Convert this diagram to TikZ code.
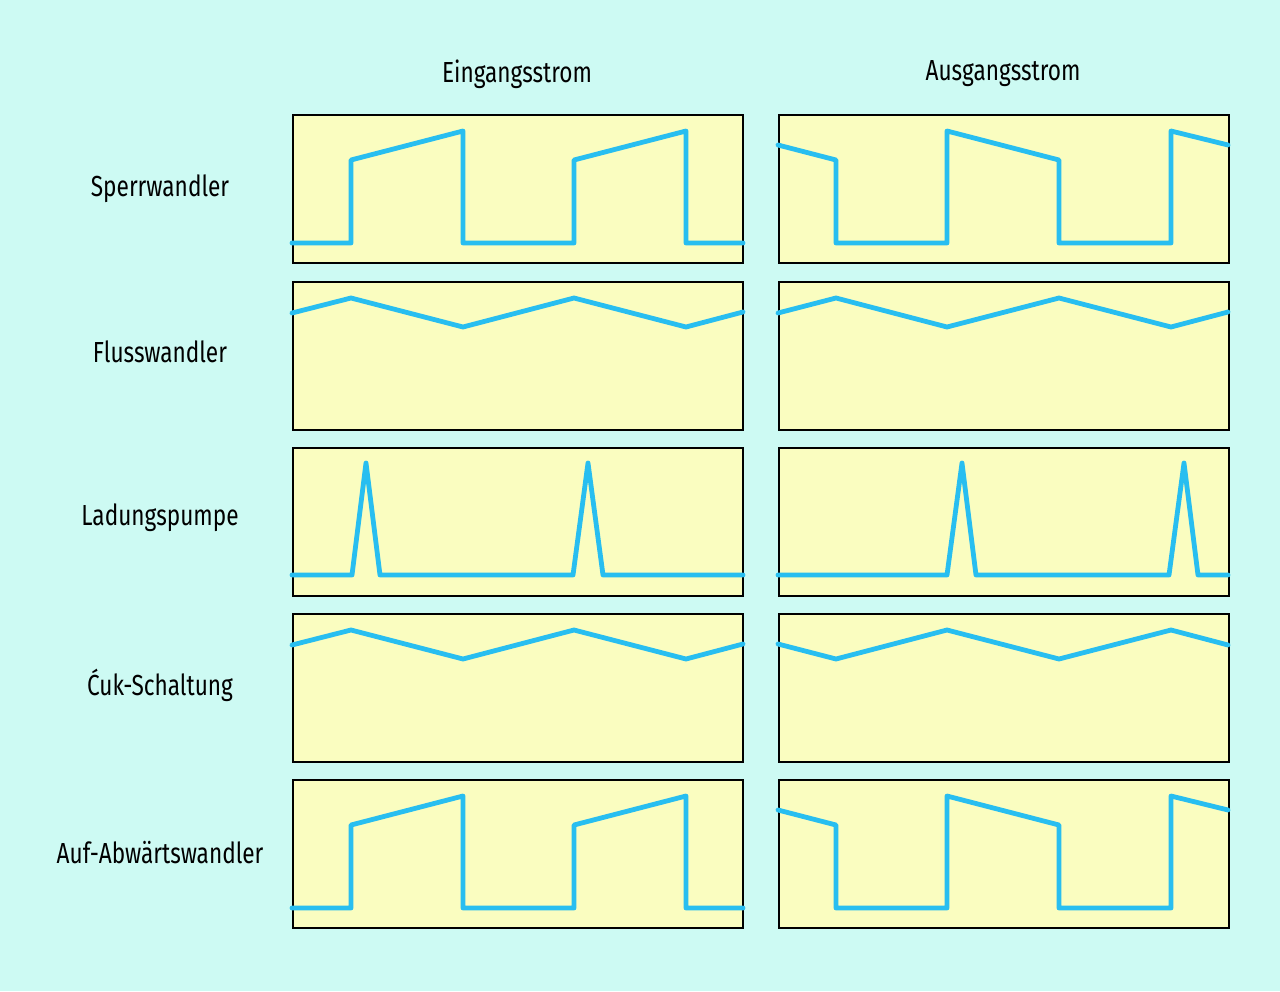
\documentclass[tikz,border=0pt]{standalone}
\usepackage{fontspec}
\setmainfont[FakeStretch=0.78]{Fira Sans}
\definecolor{bgcyan}{RGB}{205,250,243}
\definecolor{boxyellow}{RGB}{250,253,192}
\definecolor{wavecyan}{RGB}{40,190,240}
\begin{document}
\begin{tikzpicture}[
    x=1pt, y=-1pt,
    panel/.style={draw=black, fill=boxyellow, line width=1.8pt, anchor=north west,
                  minimum width=450pt, minimum height=148pt, inner sep=0pt},
    wave/.style={draw=wavecyan, line width=4.8pt, line join=round, line cap=round},
    head/.style={font=\fontsize{29}{32}\selectfont, text=black},
]

% Background
\fill[bgcyan] (0,0) rectangle (1280,991);
\useasboundingbox (0,0) rectangle (1280,991);

% Column titles
\node[head] (ein) at (517,74) {Eingangsstrom};
\node[head] (aus) at (1003,74) {Ausgangsstrom};

% Row titles
\node[head] (sperr) at (160,189) {Sperrwandler};
\node[head] (fluss) at (160,352) {Flusswandler};
\node[head] (ladung) at (160,518) {Ladungspumpe};
\node[head] (cuk) at (160,685) {Ćuk-Schaltung};
\node[head] (aufab) at (160,853) {Auf-Abwärtswandler};

% Panels
\foreach \ty/\nm in {114/sperr,281/fluss,447/ladung,613/cuk,779/aufab}{
  \node[panel] (\nm-in) at (292,\ty) {};
  \node[panel] (\nm-out) at (778,\ty) {};
}

% Sperrwandler and Auf-Abwaertswandler
\foreach \ty in {114,779}{
  \draw[wave] (292,\ty+129) -- (351,\ty+129) -- (351,\ty+46) -- (463,\ty+17)
    -- (463,\ty+129) -- (574,\ty+129) -- (574,\ty+46) -- (686,\ty+17)
    -- (686,\ty+129) -- (743,\ty+129);
  \draw[wave] (778,\ty+31) -- (836,\ty+46) -- (836,\ty+129) -- (947,\ty+129)
    -- (947,\ty+17) -- (1059,\ty+46) -- (1059,\ty+129) -- (1171,\ty+129)
    -- (1171,\ty+17) -- (1228,\ty+31);
}

% Flusswandler and Cuk (input)
\foreach \ty in {281,613}{
  \draw[wave] (292,\ty+32) -- (351,\ty+17) -- (463,\ty+46) -- (574,\ty+17)
    -- (686,\ty+46) -- (743,\ty+31);
}
\draw[wave] (778,313) -- (836,298) -- (947,327) -- (1059,298) -- (1171,327) -- (1228,312);
\draw[wave] (778,644) -- (836,659) -- (947,630) -- (1059,659) -- (1171,630) -- (1228,645);

% Ladungspumpe
\draw[wave] (292,575) -- (352,575) -- (366,463) -- (380,575) -- (573,575)
  -- (588,463) -- (603,575) -- (743,575);
\draw[wave] (778,575) -- (947,575) -- (962,463) -- (976,575) -- (1169,575)
  -- (1184,463) -- (1198,575) -- (1228,575);

\end{tikzpicture}
\end{document}
